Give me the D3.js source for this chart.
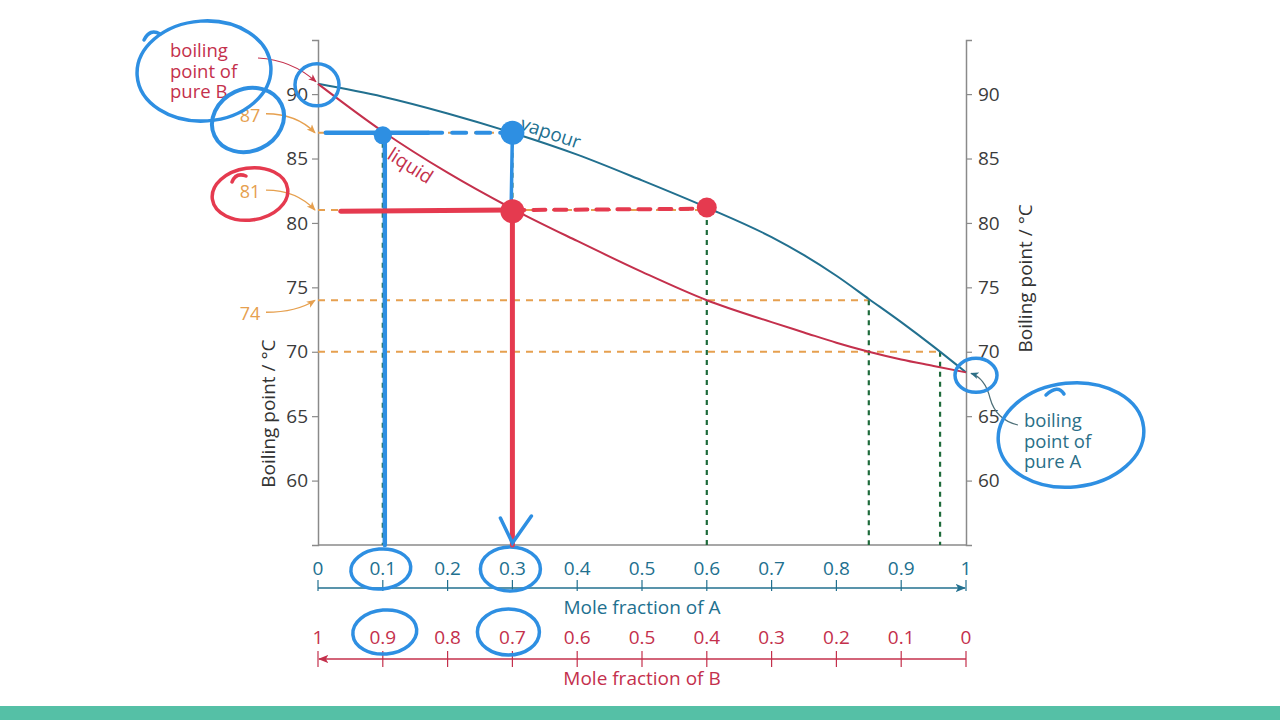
<!DOCTYPE html>
<html>
<head>
<meta charset="utf-8">
<script src="https://cdn.jsdelivr.net/npm/d3@7"></script>
<style>
  html, body { margin: 0; padding: 0; background: #ffffff; }
  svg { display: block; font-family: "Open Sans", "Noto Sans", sans-serif; }
</style>
</head>
<body>
<svg id="chart" width="1280" height="720"></svg>
<script>
// ---------------- DATA ----------------
const molFractionA = [0, 0.1, 0.2, 0.3, 0.4, 0.5, 0.6, 0.7, 0.75, 0.8, 0.85, 0.9, 0.95, 1];
const liquidTemp   = [90.8, 87.1, 83.9, 81.1, 78.6, 76.2, 74.0, 72.3, 71.5, 70.7, 70.0, 69.4, 68.9, 68.4];
const vapourTemp   = [90.8, 89.8, 88.5, 87.0, 85.3, 83.3, 81.2, 78.9, 77.5, 75.9, 74.1, 72.3, 70.4, 68.4];
const tempTicks    = [60, 65, 70, 75, 80, 85, 90];
const fractionTicks = [0, 0.1, 0.2, 0.3, 0.4, 0.5, 0.6, 0.7, 0.8, 0.9, 1];
// tie-line steps: temperature and vapour composition reached
const stepTemps    = [87, 81, 74, 70];
const stepVapourX  = [0.3, 0.6, 0.85, 0.96];
const dropLineX    = [0.1, 0.3, 0.6, 0.85, 0.96];
const dropLineTemp = [87, 87, 81, 74, 70];
const labelledTemps = [87, 81, 74];

// ---------------- SETUP ----------------
const svg = d3.select("#chart");
const C = {
  axis: "#8a8a8a", tickText: "#3b3b3b", vap: "#22708f", liq: "#c4304c",
  orange: "#e6a04f", green: "#1e6b3b", handBlue: "#2e8fe2", handRed: "#e53a4f",
  band: "#55c0a6"
};
const x  = d3.scaleLinear().domain([0, 1]).range([318, 966]);
const xB = d3.scaleLinear().domain([1, 0]).range([318, 966]);
const y  = d3.scaleLinear().domain([55, 94.2]).range([545, 40]);

const defs = svg.append("defs");
function marker(id, color, size) {
  defs.append("marker").attr("id", id).attr("viewBox", "0 0 10 10")
    .attr("refX", 9).attr("refY", 5).attr("markerWidth", size).attr("markerHeight", size)
    .attr("orient", "auto-start-reverse")
    .append("path").attr("d", "M0,1 L10,5 L0,9 L2.5,5 Z").attr("fill", color);
}
marker("arrBlue", C.vap, 7);
marker("arrRed", C.liq, 7);
marker("arrOrange", C.orange, 7);
marker("arrRedThin", C.liq, 7);
marker("arrDark", "#2d6f86", 7);

// bottom band
svg.append("rect").attr("x", 0).attr("y", 706).attr("width", 1280).attr("height", 14).attr("fill", C.band);

// ---------------- AXES ----------------
const leftAx = svg.append("g").attr("transform", `translate(${x(0)},0)`)
  .call(d3.axisLeft(y).tickValues(tempTicks).tickSize(6).tickPadding(4));
const rightAx = svg.append("g").attr("transform", `translate(${x(1)},0)`)
  .call(d3.axisRight(y).tickValues(tempTicks).tickSize(6).tickPadding(6));
[leftAx, rightAx].forEach(g => {
  g.select(".domain").attr("stroke", C.axis).attr("stroke-width", 1.5);
  g.selectAll(".tick line").attr("stroke", C.axis).attr("stroke-width", 1.2);
  g.selectAll(".tick text").attr("fill", C.tickText).attr("font-size", 19)
    .attr("font-family", "'Open Sans', sans-serif");
});
// bottom frame line
svg.append("line").attr("x1", x(0)).attr("x2", x(1)).attr("y1", y(55)).attr("y2", y(55))
  .attr("stroke", C.axis).attr("stroke-width", 1.5);

// axis titles
svg.append("text").attr("transform", `translate(275,${y(65.2)}) rotate(-90)`)
  .attr("text-anchor", "middle").attr("font-size", 19).attr("fill", "#333")
  .text("Boiling point / °C");
svg.append("text").attr("transform", `translate(1032,${y(75.7)}) rotate(-90)`)
  .attr("text-anchor", "middle").attr("font-size", 19).attr("fill", "#333")
  .text("Boiling point / °C");

// mole fraction of A scale
const yA = 588, yBline = 659;
const gA = svg.append("g");
gA.append("line").attr("x1", x(0)).attr("x2", x(1) - 1).attr("y1", yA).attr("y2", yA)
  .attr("stroke", C.vap).attr("stroke-width", 1.5).attr("marker-end", "url(#arrBlue)");
gA.selectAll("line.t").data(fractionTicks).join("line").attr("class", "t")
  .attr("x1", d => x(d)).attr("x2", d => x(d)).attr("y1", yA - 8).attr("y2", yA + 3)
  .attr("stroke", C.vap).attr("stroke-width", 1.2);
gA.selectAll("text").data(fractionTicks).join("text")
  .attr("x", d => x(d)).attr("y", yA - 13).attr("text-anchor", "middle")
  .attr("font-size", 19).attr("fill", C.vap).text(d => d3.format("~g")(d));
svg.append("text").attr("x", x(0.5)).attr("y", 614).attr("text-anchor", "middle")
  .attr("font-size", 19).attr("fill", C.vap).text("Mole fraction of A");

// mole fraction of B scale
const gB = svg.append("g");
gB.append("line").attr("x1", xB(1) + 1).attr("x2", xB(0)).attr("y1", yBline).attr("y2", yBline)
  .attr("stroke", C.liq).attr("stroke-width", 1.5).attr("marker-start", "url(#arrRed)");
gB.selectAll("line.t").data(fractionTicks).join("line").attr("class", "t")
  .attr("x1", d => xB(d)).attr("x2", d => xB(d)).attr("y1", yBline - 8).attr("y2", yBline + 8)
  .attr("stroke", C.liq).attr("stroke-width", 1.2);
gB.selectAll("text").data(fractionTicks).join("text")
  .attr("x", d => xB(d)).attr("y", yBline - 15).attr("text-anchor", "middle")
  .attr("font-size", 19).attr("fill", C.liq).text(d => d3.format("~g")(d));
svg.append("text").attr("x", x(0.5)).attr("y", 685).attr("text-anchor", "middle")
  .attr("font-size", 19).attr("fill", C.liq).text("Mole fraction of B");

// ---------------- DASHED CONSTRUCTION LINES ----------------
svg.selectAll("line.tie").data(stepTemps).join("line").attr("class", "tie")
  .attr("x1", x(0)).attr("x2", (d, i) => x(stepVapourX[i])).attr("y1", d => y(d)).attr("y2", d => y(d))
  .attr("stroke", C.orange).attr("stroke-width", 2).attr("stroke-dasharray", "7,6");
svg.selectAll("line.drop").data(dropLineX).join("line").attr("class", "drop")
  .attr("x1", d => x(d)).attr("x2", d => x(d)).attr("y1", (d, i) => y(dropLineTemp[i])).attr("y2", y(55))
  .attr("stroke", C.green).attr("stroke-width", 2.2).attr("stroke-dasharray", "5,5");

// orange temperature callouts
const calloutOffset = { 87: -18, 81: -19, 74: 13 };
labelledTemps.forEach(t => {
  const ty = y(t) + calloutOffset[t];
  svg.append("text").attr("x", 250).attr("y", ty + 7).attr("text-anchor", "middle")
    .attr("font-size", 18).attr("fill", C.orange).text(t);
  const sx = 266, sy = ty - 1, ex = x(0) - 3, ey = y(t);
  svg.append("path")
    .attr("d", `M${sx},${sy} Q${(sx + ex) / 2 + 6},${sy} ${ex},${ey}`)
    .attr("fill", "none").attr("stroke", C.orange).attr("stroke-width", 1.3)
    .attr("marker-end", "url(#arrOrange)");
});

// ---------------- CURVES ----------------
const line = d3.line().x(d => x(d[0])).y(d => y(d[1])).curve(d3.curveMonotoneX);
svg.append("path").datum(molFractionA.map((a, i) => [a, vapourTemp[i]]))
  .attr("d", line).attr("fill", "none").attr("stroke", C.vap).attr("stroke-width", 2);
svg.append("path").datum(molFractionA.map((a, i) => [a, liquidTemp[i]]))
  .attr("d", line).attr("fill", "none").attr("stroke", C.liq).attr("stroke-width", 2);

// curve labels
const vapAngle = Math.atan2(y(85.3) - y(87.0), x(0.4) - x(0.3)) * 180 / Math.PI;
svg.append("text").attr("transform", `translate(${x(0.31)},${y(86.9) - 5}) rotate(${vapAngle})`)
  .attr("font-size", 19).attr("fill", C.vap).text("vapour");
const liqAngle = Math.atan2(y(83.9) - y(87.1), x(0.2) - x(0.1)) * 180 / Math.PI;
svg.append("text").attr("transform", `translate(${x(0.108) - 2},${y(86.9) + 24}) rotate(${liqAngle})`)
  .attr("font-size", 19).attr("fill", C.liq).text("liquid");

// pure B callout
const pureB = svg.append("text").attr("font-size", 18.5).attr("fill", C.liq);
["boiling", "point of", "pure B"].forEach((s, i) =>
  pureB.append("tspan").attr("x", 170).attr("y", 57 + i * 20.5).text(s));
svg.append("path").attr("d", `M258,58 Q292,60 ${x(0) - 2},${y(90.8) - 2}`)
  .attr("fill", "none").attr("stroke", C.liq).attr("stroke-width", 1.2)
  .attr("marker-end", "url(#arrRedThin)");

// pure A callout
const pureA = svg.append("text").attr("font-size", 18.5).attr("fill", "#2a6f88");
["boiling", "point of", "pure A"].forEach((s, i) =>
  pureA.append("tspan").attr("x", 1024).attr("y", 427 + i * 20.5).text(s));
svg.append("path").attr("d", `M1018,425 Q996,420 990,398 Q985,378 ${x(1) + 5},${y(68.4) + 1}`)
  .attr("fill", "none").attr("stroke", "#4d6f78").attr("stroke-width", 1.2)
  .attr("marker-end", "url(#arrDark)");

// ---------------- HAND ANNOTATIONS ----------------
const hand = svg.append("g").attr("fill", "none").attr("stroke-linecap", "round");
function ell(cx, cy, rx, ry, rot, color, w) {
  hand.append("ellipse").attr("cx", cx).attr("cy", cy).attr("rx", rx).attr("ry", ry)
    .attr("transform", `rotate(${rot},${cx},${cy})`)
    .attr("stroke", color).attr("stroke-width", w).attr("fill", "none");
}
// circles around text / points
ell(204, 71, 67, 50, -4, C.handBlue, 3.5);
ell(248, 120, 37, 31, -25, C.handBlue, 4);
ell(x(0) - 1, y(90.8) + 1, 22, 21, 0, C.handBlue, 3.5);
ell(250, 194, 38, 26, -8, C.handRed, 3.5);
ell(x(1) + 10, y(68.4) + 3, 21, 17, 0, C.handBlue, 3.5);
ell(1071, 435, 73, 52, -6, C.handBlue, 3.5);
ell(x(0.1) - 2, 569, 30, 20, -5, C.handBlue, 3.5);
ell(x(0.3) - 2, 569, 30, 22, 0, C.handBlue, 3.5);
ell(x(0.1) + 2, 632, 32, 22, -5, C.handBlue, 3.5);
ell(x(0.3) - 4, 632, 31, 23, 0, C.handBlue, 3.5);
// little hooks
hand.append("path").attr("d", "M144,40 Q150,28 160,34").attr("stroke", C.handBlue).attr("stroke-width", 3.5);
hand.append("path").attr("d", "M232,182 Q236,172 246,176").attr("stroke", C.handRed).attr("stroke-width", 3.5);
hand.append("path").attr("d", "M1046,395 Q1058,384 1064,394").attr("stroke", C.handBlue).attr("stroke-width", 3.5);

// blue tie line at 87
hand.append("line").attr("x1", x(0.012)).attr("x2", x(0.17)).attr("y1", y(87)).attr("y2", y(87))
  .attr("stroke", C.handBlue).attr("stroke-width", 4.5);
hand.append("line").attr("x1", x(0.17)).attr("x2", x(0.29)).attr("y1", y(87)).attr("y2", y(87))
  .attr("stroke", C.handBlue).attr("stroke-width", 4).attr("stroke-dasharray", "14,10");
// blue vertical at 0.1
hand.append("line").attr("x1", x(0.1) + 2).attr("x2", x(0.1) + 2).attr("y1", y(87)).attr("y2", y(55))
  .attr("stroke", C.handBlue).attr("stroke-width", 4.5);
// blue vertical 0.3 from 87 to 81
hand.append("line").attr("x1", x(0.3)).attr("x2", x(0.298)).attr("y1", y(87)).attr("y2", y(81))
  .attr("stroke", C.handBlue).attr("stroke-width", 3.5);
// red tie line at 81
hand.append("line").attr("x1", x(0.035)).attr("x2", x(0.3)).attr("y1", y(80.9)).attr("y2", y(81))
  .attr("stroke", C.handRed).attr("stroke-width", 5);
hand.append("line").attr("x1", x(0.3)).attr("x2", x(0.6)).attr("y1", y(81)).attr("y2", y(81.1))
  .attr("stroke", C.handRed).attr("stroke-width", 4).attr("stroke-dasharray", "12,9");
// red vertical down from 0.3
hand.append("line").attr("x1", x(0.3)).attr("x2", x(0.3)).attr("y1", y(81)).attr("y2", y(55))
  .attr("stroke", C.handRed).attr("stroke-width", 5);
// blue arrowhead
hand.append("path").attr("d", `M${x(0.3) - 12},${y(55) - 27} L${x(0.3)},${y(55) - 2} L${x(0.3) + 19},${y(55) - 29}`)
  .attr("stroke", C.handBlue).attr("stroke-width", 3.5);
// dots
const dots = [
  { a: 0.1, t: 86.8, c: C.handBlue, r: 9 },
  { a: 0.3, t: 87.0, c: C.handBlue, r: 12 },
  { a: 0.3, t: 80.9, c: C.handRed, r: 12 },
  { a: 0.6, t: 81.2, c: C.handRed, r: 10 }
];
svg.selectAll("circle.dot").data(dots).join("circle").attr("class", "dot")
  .attr("cx", d => x(d.a)).attr("cy", d => y(d.t)).attr("r", d => d.r).attr("fill", d => d.c);
</script>
</body>
</html>
